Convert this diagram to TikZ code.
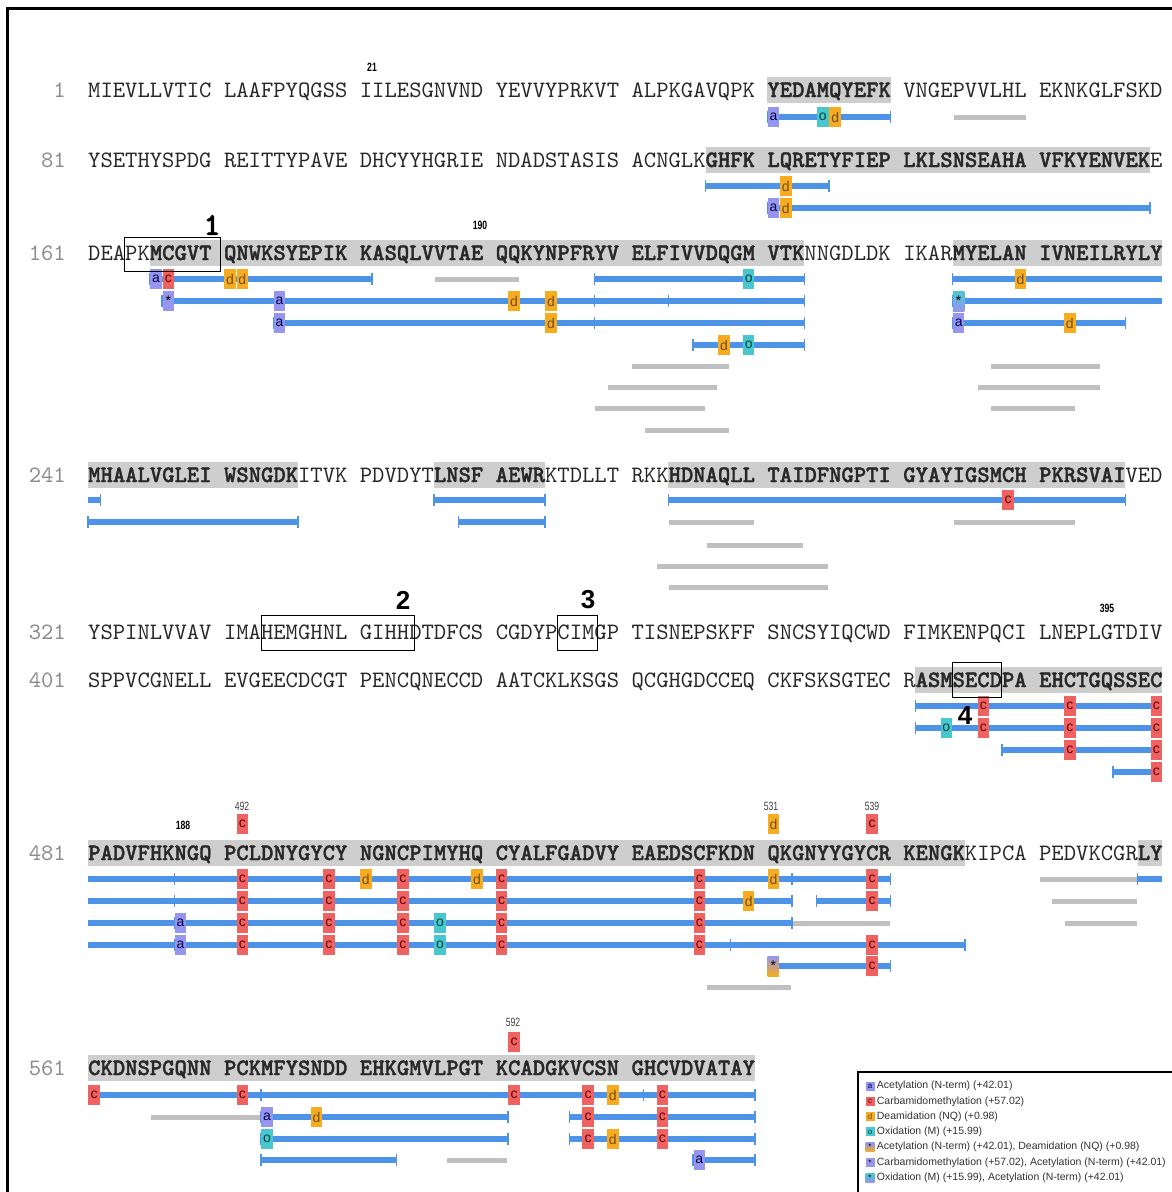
\documentclass[tikz,border=0pt]{standalone}
\usepackage{fontspec}
\usetikzlibrary{positioning}
\newfontfamily\seqfont{lmmono10-regular.otf}[BoldFont=lmmonolt10-bold.otf, BoldFeatures={FakeBold=1.6}]
\newfontfamily\lgdfont{Liberation Sans}
\newfontfamily\numfont[FakeStretch=0.72]{Liberation Sans}
\definecolor{cPep}{RGB}{77,148,232}
\definecolor{cHl}{RGB}{206,206,206}
\definecolor{cGrayPep}{RGB}{192,192,192}
\definecolor{cModA}{RGB}{150,150,238}
\definecolor{cModC}{RGB}{238,98,98}
\definecolor{cModD}{RGB}{246,172,30}
\definecolor{cModO}{RGB}{72,200,206}
\definecolor{cSeq}{RGB}{40,40,40}
\definecolor{cRowNo}{RGB}{140,140,140}
% left edge of residue k (1..80) of a sequence line
\pgfmathdeclarefunction{colx}{1}{%
  \begingroup
    \pgfmathparse{88+12.35*(11*floor((#1-1)/10)+mod(#1-1,10))}%
    \pgfmathsmuggle\pgfmathresult
  \endgroup}
\tikzset{
	seq/.style   ={anchor=base west, inner sep=0pt, text=cSeq, font=\seqfont\fontsize{23.5}{23.5}\selectfont},
	rowno/.style ={anchor=base east, inner sep=0pt, text=cRowNo, font=\seqfont\fontsize{23.5}{23.5}\selectfont},
	hlbox/.style ={fill=cHl},
	pepbar/.style={draw=cPep, line width=5.5pt},
	peptick/.style={draw=cPep, line width=1.4pt},
	pepgray/.style={draw=cGrayPep, line width=5pt},
	% modification markers
	modbox/.style={rectangle, inner sep=0pt, minimum width=11.5pt, minimum height=20pt, font=\lgdfont\fontsize{14}{14}\selectfont},
	moda/.style  ={modbox, fill=cModA, text=blue!30!black},
	modc/.style  ={modbox, fill=cModC, text=red!40!black},
	modd/.style  ={modbox, fill=cModD, text=brown!60!black},
	modo/.style  ={modbox, fill=cModO, text=teal!50!black},
	modad/.style ={modbox, top color=cModA, bottom color=cModD},
	modca/.style ={modbox, fill=cModA},
	modoa/.style ={modbox, top color=cModO, bottom color=cModA},
	regbox/.style={draw=black, line width=1pt},
	regtag/.style={inner sep=0pt, font=\lgdfont\bfseries\fontsize{26}{26}\selectfont},
	posno/.style ={inner sep=0pt, font=\numfont\bfseries\fontsize{12}{12}\selectfont},
	sitno/.style ={inner sep=0pt, text=black!75, font=\numfont\fontsize{12}{12}\selectfont},
	lgdmark/.style={rectangle, inner sep=0pt, minimum size=9pt, font=\lgdfont\fontsize{8}{8}\selectfont},
	lgdtext/.style={anchor=west, inner sep=0pt, text=black!80, font=\lgdfont\fontsize{10.5}{10.5}\selectfont},
}
% peptide bar: [ticks 0/1 left/2 right/3 both]{y}{first}{last}
\newcommand\pep[4][3]{%
  \pgfmathsetmacro\pepxa{colx(#3)}\pgfmathsetmacro\pepxb{colx(#4)+12.35}%
  \draw[pepbar] (\pepxa,#2) -- (\pepxb,#2);%
  \ifodd#1\relax\draw[peptick] (\pepxa,#2-6) -- (\pepxa,#2+6);\fi
  \ifnum#1>1\relax\draw[peptick] (\pepxb,#2-6) -- (\pepxb,#2+6);\fi}
\newcommand\gpep[3]{%
  \pgfmathsetmacro\pepxa{colx(#2)+1}\pgfmathsetmacro\pepxb{colx(#3)+11.35}%
  \draw[pepgray] (\pepxa,#1) -- (\pepxb,#1);}
\newcommand\mk[3]{\pgfmathsetmacro\pepxm{colx(#3)+6.17}\node[mod#1] at (\pepxm,#2) {#1};}
\newcommand\mkx[3]{\pgfmathsetmacro\pepxm{colx(#3)+6.17}\node[mod#1] at (\pepxm,#2) {*};}
\newcommand\hl[3]{%
  \pgfmathsetmacro\pepxa{colx(#2)}\pgfmathsetmacro\pepxb{colx(#3)+12.35}%
  \fill[hlbox] (\pepxa,#1-13) rectangle (\pepxb,#1+13);}

\begin{document}
\begin{tikzpicture}[x=1pt, y=-1pt]
\useasboundingbox (0,0) rectangle (1172,1192);
\fill[white] (0,0) rectangle (1172,1192);
\draw[line width=3pt] (7,8) rectangle (1178,1210);

% highlighted (covered) stretches
\hl{90}{51}{60}
\hl{160}{47}{79}
\hl{253}{6}{53} \hl{253}{65}{80}
\hl{475}{1}{16} \hl{475}{27}{34} \hl{475}{44}{77}
\hl{680}{62}{80}
\hl{853}{1}{65} \hl{853}{79}{80}
\hl{1068}{1}{50}

% sequence lines
\foreach \n/\y in {1/97, 81/167, 161/260, 241/482, 321/639, 401/687, 481/860, 561/1075}
  \node[rowno] (n\n) at (66,\y) {\n};
\foreach \blk [count=\b from 0] in {MIEVLLVTIC,LAAFPYQGSS,IILESGNVND,YEVVYPRKVT,ALPKGAVQPK,\textbf{YEDAMQYEFK},VNGEPVVLHL,EKNKGLFSKD}
  \node[seq] (qa\b) at ({88+135.85*\b},97) {\blk};
\foreach \blk [count=\b from 0] in {YSETHYSPDG,REITTYPAVE,DHCYYHGRIE,NDADSTASIS,ACNGLK\textbf{GHFK},\textbf{LQRETYFIEP},\textbf{LKLSNSEAHA},\textbf{VFKYENVEK}E}
  \node[seq] (qb\b) at ({88+135.85*\b},167) {\blk};
\foreach \blk [count=\b from 0] in {DEAPK\textbf{MCGVT},\textbf{QNWKSYEPIK},\textbf{KASQLVVTAE},\textbf{QQKYNPFRYV},\textbf{ELFIVVDQGM},\textbf{VTK}NNGDLDK,IKAR\textbf{MYELAN},\textbf{IVNEILRYLY}}
  \node[seq] (qc\b) at ({88+135.85*\b},260) {\blk};
\foreach \blk [count=\b from 0] in {\textbf{MHAALVGLEI},\textbf{WSNGDK}ITVK,PDVDYT\textbf{LNSF},\textbf{AEWR}KTDLLT,RKK\textbf{HDNAQLL},\textbf{TAIDFNGPTI},\textbf{GYAYIGSMCH},\textbf{PKRSVAI}VED}
  \node[seq] (qd\b) at ({88+135.85*\b},482) {\blk};
\foreach \blk [count=\b from 0] in {YSPINLVVAV,IMAHEMGHNL,GIHHDTDFCS,CGDYPCIMGP,TISNEPSKFF,SNCSYIQCWD,FIMKENPQCI,LNEPLGTDIV}
  \node[seq] (qe\b) at ({88+135.85*\b},639) {\blk};
\foreach \blk [count=\b from 0] in {SPPVCGNELL,EVGEECDCGT,PENCQNECCD,AATCKLKSGS,QCGHGDCCEQ,CKFSKSGTEC,R\textbf{ASMSECDPA},\textbf{EHCTGQSSEC}}
  \node[seq] (qf\b) at ({88+135.85*\b},687) {\blk};
\foreach \blk [count=\b from 0] in {\textbf{PADVFHKNGQ},\textbf{PCLDNYGYCY},\textbf{NGNCPIMYHQ},\textbf{CYALFGADVY},\textbf{EAEDSCFKDN},\textbf{QKGNYYGYCR},\textbf{KENGK}KIPCA,PEDVKCGR\textbf{LY}}
  \node[seq] (qg\b) at ({88+135.85*\b},860) {\blk};
\foreach \blk [count=\b from 0] in {\textbf{CKDNSPGQNN},\textbf{PCKMFYSNDD},\textbf{EHKGMVLPGT},\textbf{KCADGKVCSN},\textbf{GHCVDVATAY}}
  \node[seq] (qh\b) at ({88+135.85*\b},1075) {\blk};

% line 1
\pep{117}{51}{60} \gpep{117}{65}{70}
\mk{a}{117}{51} \mk{o}{117}{55} \mk{d}{117}{56}
% line 81
\pep{186}{47}{55} \mk{d}{186}{52}
\pep{208}{51}{79} \mk{a}{208}{51} \mk{d}{208}{52}
% line 161
\pep{279}{6}{21} \gpep{279}{27}{32} \pep{279}{39}{53} \pep[1]{279}{65}{80}
\pep{301}{7}{38} \pep{301}{39}{43} \pep{301}{44}{53} \pep[1]{301}{65}{80}
\pep{323}{15}{38} \pep{323}{39}{53} \pep{323}{65}{77}
\pep{345}{46}{53}
\gpep{366}{41}{48} \gpep{366}{68}{75}
\gpep{387}{40}{47} \gpep{387}{67}{75}
\gpep{408}{39}{46} \gpep{408}{68}{73}
\gpep{430}{42}{48}
\mk{a}{279}{6} \mk{c}{279}{7} \mk{d}{279}{11} \mk{d}{279}{12} \mk{o}{279}{50} \mk{d}{279}{70}
\mkx{ca}{301}{7} \mk{a}{301}{15} \mk{d}{301}{32} \mk{d}{301}{35} \mkx{oa}{301}{65}
\mk{a}{323}{15} \mk{d}{323}{35} \mk{a}{323}{65} \mk{d}{323}{73}
\mk{d}{345}{48} \mk{o}{345}{50}
% line 241
\pep[2]{500}{1}{1} \pep{500}{27}{34} \pep{500}{44}{77}
\pep{522}{1}{16} \pep{522}{29}{34} \gpep{522}{44}{50} \gpep{522}{65}{73}
\gpep{545}{47}{53}
\gpep{566}{43}{55}
\gpep{587}{44}{55}
\mk{c}{500}{69}
% line 401
\pep[1]{706}{62}{80} \pep[1]{728}{62}{80} \pep[1]{750}{69}{80} \pep[1]{772}{77}{80}
\mk{c}{706}{67} \mk{c}{706}{73} \mk{c}{706}{80}
\mk{o}{728}{64} \mk{c}{728}{67} \mk{c}{728}{73} \mk{c}{728}{80}
\mk{c}{750}{73} \mk{c}{750}{80}
\mk{c}{772}{80}
% line 481
\pep[0]{879}{1}{7} \pep{879}{8}{52} \pep{879}{53}{60} \gpep{879}{71}{78} \pep[1]{879}{79}{80}
\pep[0]{901}{1}{7} \pep{901}{8}{52} \pep{901}{55}{60} \gpep{901}{72}{78}
\pep[0]{923}{1}{7} \pep{923}{8}{52} \gpep{923}{53}{60} \gpep{923}{73}{78}
\pep[0]{945}{1}{7} \pep{945}{8}{48} \pep{945}{49}{65}
\pep{966}{51}{60}
\gpep{987}{47}{52}
\foreach \k in {12,19,24,31,46,59} {\mk{c}{879}{\k} \mk{c}{901}{\k}}
\mk{d}{879}{21} \mk{d}{879}{30} \mk{d}{879}{51} \mk{d}{901}{50}
\foreach \k in {12,19,24,31,46} {\mk{c}{923}{\k} \mk{c}{945}{\k}}
\mk{a}{923}{8} \mk{a}{945}{8} \mk{o}{923}{27} \mk{o}{945}{27} \mk{c}{945}{59}
\mkx{ad}{966}{51} \mk{c}{966}{59}
\mk{c}{824}{12} \mk{d}{824}{51} \mk{c}{824}{59}
% line 561
\pep[2]{1095}{1}{13} \pep{1095}{14}{41} \pep{1095}{42}{50}
\gpep{1117}{6}{13} \pep{1117}{14}{31} \pep{1117}{37}{50}
\pep{1139}{14}{31} \pep{1139}{37}{50}
\pep{1160}{14}{23} \gpep{1160}{28}{31} \pep{1160}{46}{50}
\mk{c}{1095}{1} \mk{c}{1095}{12} \mk{c}{1095}{32} \mk{d}{1095}{40}
\foreach \k in {38,43} {\mk{c}{1095}{\k} \mk{c}{1117}{\k} \mk{c}{1139}{\k}}
\mk{a}{1117}{14} \mk{d}{1117}{18}
\mk{o}{1139}{14} \mk{d}{1139}{40}
\mk{a}{1160}{46}
\mk{c}{1042}{32}

% position numbers
\node[posno] (p21) at (372,67) {21};
\node[posno] (p190) at (480,225) {190};
\node[posno] (p188) at (183,825) {188};
\node[posno] (p395) at (1107,608) {395};
\node[sitno] (s492) at (242,806) {492};
\node[sitno] (s531) at (771,806) {531};
\node[sitno] (s539) at (872,806) {539};
\node[sitno] (s592) at (513,1022) {592};

% marked regions
\draw[regbox] (124,237) rectangle (220,271);
\node[regtag, font=\seqfont\bfseries\fontsize{32}{32}\selectfont] (tag1) at (212,225) {1};
\draw[regbox] (261,615) rectangle (414,650);
\node[regtag] (tag2) at (403,600) {2};
\draw[regbox] (557,615) rectangle (597,650);
\node[regtag] (tag3) at (588,600) {3};
\draw[regbox] (952,662) rectangle (1001,697);
\node[regtag] (tag4) at (965,716) {4};

% legend
\draw[line width=2pt] (858,1072) rectangle (1185,1210);
\foreach \ls/\ll/\lt [count=\i from 0] in {moda/a/{Acetylation (N-term) (+42.01)}, modc/c/{Carbamidomethylation (+57.02)}, modd/d/{Deamidation (NQ) (+0.98)}, modo/o/{Oxidation (M) (+15.99)}, modad/*/{Acetylation (N-term) (+42.01), Deamidation (NQ) (+0.98)}, modca/*/{Carbamidomethylation (+57.02), Acetylation (N-term) (+42.01)}, modoa/*/{Oxidation (M) (+15.99), Acetylation (N-term) (+42.01)}} {
  \node[\ls, lgdmark] (lm\i) at (870,{1086+15.3*\i}) {\ll};
  \node[lgdtext, right=2pt of lm\i] (lt\i) {\lt};
}
\end{tikzpicture}
\end{document}
